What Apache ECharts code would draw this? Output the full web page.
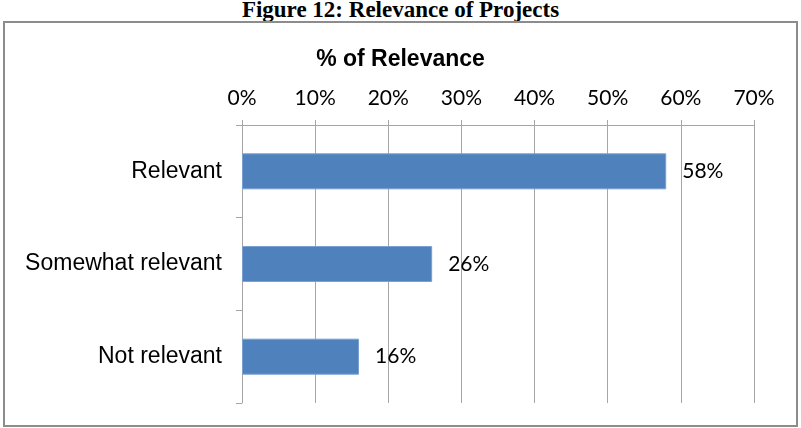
<!DOCTYPE html>
<html>
<head>
<meta charset="utf-8">
<script src="https://cdn.jsdelivr.net/npm/echarts@6/dist/echarts.min.js"></script>
<style>
html,body{margin:0;padding:0;background:#fff;}
#fig{position:absolute;left:0;top:-1px;width:801px;height:22px;text-align:center;font-family:"Liberation Serif","Times New Roman",serif;font-weight:bold;font-size:23px;line-height:22px;color:#000;}
#box{position:absolute;left:3px;top:21px;width:791px;height:402px;border:2px solid #8c8c8c;}
#chart{position:absolute;left:0;top:0;width:801px;height:428px;}
</style>
</head>
<body>
<div id="fig">Figure 12: Relevance of Projects</div>
<div id="box"></div>
<div id="chart"></div>
<script>
const categories = ["Relevant", "Somewhat relevant", "Not relevant"];
const values = [58, 26, 16];
const chartTitle = "% of Relevance";

const chart = echarts.init(document.getElementById('chart'), null, {renderer:'canvas'});
chart.setOption({
  backgroundColor: 'transparent',
  animation: false,
  title: {
    text: chartTitle, left: 'center', top: 43,
    textStyle: {fontFamily: 'Liberation Sans, Arial, sans-serif', fontWeight: 'bold', fontSize: 23, color: '#000'}
  },
  grid: {left: 242, right: 47, top: 125, bottom: 25, containLabel: false},
  xAxis: {
    type: 'value', position: 'top', min: 0, max: 70, interval: 10,
    axisLine: {show: true, lineStyle: {color: '#a6a6a6', width: 1}},
    axisTick: {show: true, length: 5, lineStyle: {color: '#a6a6a6'}},
    splitLine: {show: true, lineStyle: {color: '#a6a6a6', width: 1}},
    axisLabel: {formatter: '{value}%', margin: 16, fontFamily: 'Lato, "Open Sans", sans-serif', fontSize: 21, color: '#000'}
  },
  yAxis: {
    type: 'category', data: categories, inverse: true,
    axisLine: {show: true, lineStyle: {color: '#a6a6a6', width: 1}},
    axisTick: {show: true, length: 6, lineStyle: {color: '#a6a6a6'}},
    axisLabel: {margin: 20, fontFamily: 'Liberation Sans, Arial, sans-serif', fontSize: 23, color: '#000'}
  },
  series: [{
    type: 'bar', data: values, barWidth: 36,
    itemStyle: {color: '#4f81bd', borderColor: '#7aa0d4', borderWidth: 1},
    label: {show: true, position: 'right', distance: 16, formatter: '{c}%',
      fontFamily: 'Lato, "Open Sans", sans-serif', fontSize: 21, color: '#000'}
  }]
});
</script>
</body>
</html>
